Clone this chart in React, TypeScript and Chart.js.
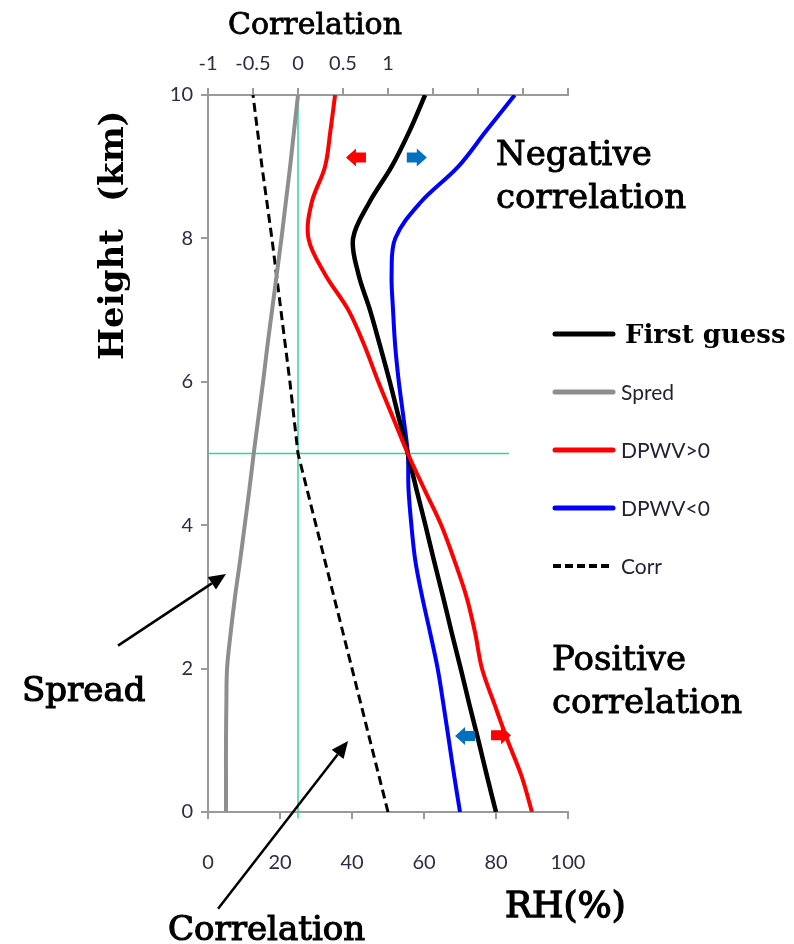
import { useEffect, useRef } from 'react';
import { Chart, registerables } from 'chart.js';

Chart.register(...registerables);

// ---------- data ----------
const heights = [0, 0.5, 1, 1.5, 2, 2.5, 3, 3.5, 4, 4.5, 5, 5.5, 6, 6.5, 7, 7.5, 8, 8.5, 9, 9.5, 10];
const firstGuess = [80, 77.5, 75.1, 72.6, 70.2, 67.7, 65.3, 62.8, 60.4, 57.9, 55.5, 53, 50.5, 47.8, 45, 41.8, 40.3, 44.8, 51, 56, 60.3];
const dpwvPos = [90, 87.1, 83.2, 79.6, 76.1, 74.2, 71.8, 68.5, 64.8, 60.1, 55.5, 51.4, 47.3, 43.5, 39, 32.5, 27.9, 28.8, 32.5, 34, 35.3];
const dpwvNeg = [70, 68.4, 66.9, 65.4, 63.8, 61.7, 59.5, 57.6, 56.5, 55.7, 55.5, 54.3, 53, 52, 51.4, 51, 52, 59, 69.5, 77.3, 85.2];
const spread = [5, 5, 5, 5.1, 5.3, 6.3, 7.5, 8.9, 10.2, 11.5, 12.7, 14, 15.3, 16.5, 17.8, 19.1, 20.4, 21.6, 22.8, 23.9, 25];
const corr = [1, 0.9, 0.8, 0.7, 0.6, 0.5, 0.4, 0.3, 0.2, 0.1, 0, -0.045, -0.09, -0.14, -0.19, -0.24, -0.29, -0.345, -0.4, -0.45, -0.5];

const rhTicksMax = 100;
const corrLabelMax = 1;

// small direction arrows: [RH, height, direction, colour]
const dirArrows: [number, number, number, string][] = [
  [41.1, 9.13, -1, '#ff0000'],
  [58.0, 9.13, 1, '#0070c0'],
  [71.4, 1.06, -1, '#0070c0'],
  [81.4, 1.07, 1, '#ff0000'],
];

// pointer arrows: [tailRH, tailH, tipRH, tipH]
const pointerArrows: [number, number, number, number][] = [
  [-25, 2.32, 5, 3.32],
  [2.8, -1.35, 38.9, 0.99],
];

const BLACK = '#000000';
const GRAY = '#8e8e8e';
const RED = '#ff0000';
const BLUE = '#0000ff';
const GREEN = '#33d3a3';
const AXIS = '#9a9a9a';
const TICK = '#2c2c44';
const SERIF = '"DejaVu Serif", serif';
const SANS = 'Lato, "Open Sans", sans-serif';

const legendItems = [
  { label: 'First guess', color: BLACK, dash: [] as number[], serif: true },
  { label: 'Spred', color: GRAY, dash: [] as number[], serif: false },
  { label: 'DPWV>0', color: RED, dash: [] as number[], serif: false },
  { label: 'DPWV<0', color: BLUE, dash: [] as number[], serif: false },
  { label: 'Corr', color: BLACK, dash: [8, 4], serif: false },
];

const pts = (vals: number[]) => vals.map((v, i) => ({ x: v, y: heights[i] }));

function blockArrow(ctx: CanvasRenderingContext2D, cx: number, cy: number, dir: number, color: string) {
  const sh = 5, hh = 9, sl = 10, hl = 10;
  ctx.save();
  ctx.translate(cx, cy);
  ctx.scale(dir, 1);
  ctx.fillStyle = color;
  ctx.beginPath();
  ctx.moveTo(-sl, -sh);
  ctx.lineTo(0, -sh);
  ctx.lineTo(0, -hh);
  ctx.lineTo(hl, 0);
  ctx.lineTo(0, hh);
  ctx.lineTo(0, sh);
  ctx.lineTo(-sl, sh);
  ctx.closePath();
  ctx.fill();
  ctx.restore();
}

function pointer(ctx: CanvasRenderingContext2D, x1: number, y1: number, x2: number, y2: number) {
  const ang = Math.atan2(y2 - y1, x2 - x1);
  const hl = 17, hw = 7.5;
  const bx = x2 - hl * Math.cos(ang), by = y2 - hl * Math.sin(ang);
  ctx.save();
  ctx.strokeStyle = '#000';
  ctx.fillStyle = '#000';
  ctx.lineWidth = 2.5;
  ctx.beginPath();
  ctx.moveTo(x1, y1);
  ctx.lineTo(bx, by);
  ctx.stroke();
  ctx.beginPath();
  ctx.moveTo(x2, y2);
  ctx.lineTo(bx + hw * Math.sin(ang), by - hw * Math.cos(ang));
  ctx.lineTo(bx - hw * Math.sin(ang), by + hw * Math.cos(ang));
  ctx.closePath();
  ctx.fill();
  ctx.restore();
}

function heavyText(ctx: CanvasRenderingContext2D, s: string, x: number, y: number, w = 0.9) {
  ctx.fillText(s, x, y);
  ctx.lineWidth = w;
  ctx.strokeText(s, x, y);
}

const decorPlugin = {
  id: 'decor',
  beforeDatasetsDraw(chart: any) {
    const { ctx, scales } = chart;
    const x = scales.x, x2 = scales.x2, y = scales.y;
    ctx.save();
    ctx.strokeStyle = GREEN;
    ctx.lineWidth = 1.5;
    ctx.beginPath();
    const gx = x2.getPixelForValue(0);
    ctx.moveTo(gx, y.getPixelForValue(10));
    ctx.lineTo(gx, y.getPixelForValue(-0.09));
    const gy = y.getPixelForValue(5);
    ctx.moveTo(x.getPixelForValue(0), gy);
    ctx.lineTo(x.getPixelForValue(83.6), gy);
    ctx.stroke();
    ctx.restore();
  },
  afterDraw(chart: any) {
    const { ctx, scales } = chart;
    const x = scales.x, y = scales.y;

    dirArrows.forEach(([rh, h, d, c]) => blockArrow(ctx, x.getPixelForValue(rh), y.getPixelForValue(h), d, c));
    pointerArrows.forEach(([a, b, c, d]) =>
      pointer(ctx, x.getPixelForValue(a), y.getPixelForValue(b), x.getPixelForValue(c), y.getPixelForValue(d))
    );

    ctx.save();
    ctx.fillStyle = '#000';
    ctx.strokeStyle = '#000';
    ctx.textAlign = 'left';
    ctx.textBaseline = 'alphabetic';
    ctx.font = `30px ${SERIF}`;
    heavyText(ctx, 'Correlation', 228, 34, 0.8);
    ctx.font = `34px ${SERIF}`;
    heavyText(ctx, 'Negative', 496, 165);
    heavyText(ctx, 'correlation', 496, 208);
    heavyText(ctx, 'Positive', 552, 670);
    heavyText(ctx, 'correlation', 552, 713);
    heavyText(ctx, 'Spread', 22, 701, 1.2);
    heavyText(ctx, 'Correlation', 168, 940, 1.2);
    ctx.font = `36px ${SERIF}`;
    heavyText(ctx, 'RH(%)', 505, 917, 1.4);

    // vertical axis title
    ctx.save();
    ctx.translate(123, 360);
    ctx.rotate(-Math.PI / 2);
    ctx.font = `bold 34px ${SERIF}`;
    ctx.fillText('Height', 0, 0);
    ctx.fillText('(km)', 158, 0);
    ctx.restore();

    // legend
    legendItems.forEach((it, i) => {
      const ly = 334 + i * 58;
      ctx.save();
      ctx.strokeStyle = it.color;
      ctx.lineWidth = it.dash.length ? 4 : 5;
      ctx.lineCap = it.dash.length ? 'butt' : 'round';
      ctx.setLineDash(it.dash);
      ctx.beginPath();
      ctx.moveTo(it.dash.length ? 553 : 555, ly);
      ctx.lineTo(613, ly);
      ctx.stroke();
      ctx.restore();
      if (it.serif) {
        ctx.font = `bold 26px ${SERIF}`;
        ctx.textBaseline = 'alphabetic';
        ctx.fillStyle = '#000';
        ctx.fillText(it.label, 625, ly + 9);
      } else {
        ctx.font = `21px ${SANS}`;
        ctx.textBaseline = 'middle';
        ctx.fillStyle = '#222233';
        ctx.fillText(it.label, 621, ly + 1);
      }
    });
    ctx.restore();
  },
};

const tickFont = { family: SANS, size: 20 };
const gridOpts = { drawOnChartArea: false, drawTicks: true, tickLength: 7, color: AXIS, lineWidth: 2 };
const borderOpts = { display: true, color: AXIS, width: 2 };

export default function App() {
  const ref = useRef<HTMLCanvasElement>(null);
  useEffect(() => {
    const line = (label: string, vals: number[], color: string, extra: any = {}) => ({
      label,
      data: pts(vals),
      borderColor: color,
      backgroundColor: color,
      borderWidth: 4,
      pointRadius: 0,
      tension: 0.35,
      fill: false,
      ...extra,
    });
    const chart = new Chart(ref.current!, {
      type: 'line',
      data: {
        datasets: [
          line('Spred', spread, GRAY),
          line('Corr', corr, BLACK, { xAxisID: 'x2', borderDash: [9, 5], borderWidth: 3, tension: 0 }),
          line('DPWV>0', dpwvPos, RED),
          line('First guess', firstGuess, BLACK, { borderWidth: 4.5 }),
          line('DPWV<0', dpwvNeg, BLUE),
        ],
      },
      options: {
        responsive: false,
        animation: false,
        layout: { padding: { left: 0, top: 0, right: 226, bottom: 0 } },
        plugins: { legend: { display: false }, tooltip: { enabled: false } },
        scales: {
          x: {
            type: 'linear',
            position: 'bottom',
            min: 0,
            max: rhTicksMax,
            ticks: { stepSize: 20, color: TICK, font: tickFont, padding: 32, autoSkip: false, maxRotation: 0 },
            grid: gridOpts,
            border: borderOpts,
            afterFit: (s: any) => { s.height = 132; },
          },
          x2: {
            type: 'linear',
            position: 'top',
            min: -1,
            max: 3,
            ticks: {
              stepSize: 0.5,
              color: TICK,
              font: tickFont,
              padding: 12,
              autoSkip: false,
              maxRotation: 0,
              callback: (v: any) => (Number(v) <= corrLabelMax ? String(v) : ''),
            },
            grid: gridOpts,
            border: borderOpts,
            afterFit: (s: any) => { s.height = 95; },
          },
          y: {
            type: 'linear',
            position: 'left',
            min: 0,
            max: 10,
            ticks: { stepSize: 2, color: TICK, font: tickFont, padding: 8, autoSkip: false },
            grid: gridOpts,
            border: borderOpts,
            afterFit: (s: any) => { s.width = 208; },
          },
        },
      } as any,
      plugins: [decorPlugin],
    });
    return () => chart.destroy();
  }, []);
  return (
    <div style={{ position: 'absolute', left: 0, top: 0, width: 794, height: 944, background: '#fff' }}>
      <canvas ref={ref} width={794} height={944} style={{ display: 'block' }} />
    </div>
  );
}
